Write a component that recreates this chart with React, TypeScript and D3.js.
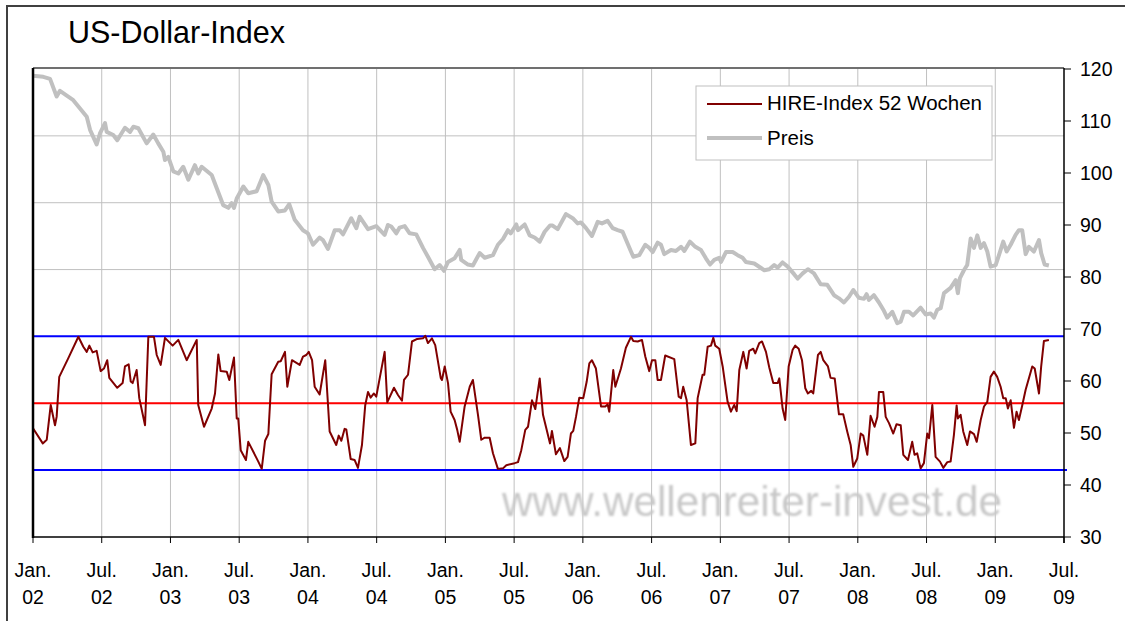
import React from "react";
import * as d3 from "d3";

// ---- data (time in decimal years) ----
const priceTime = [2002.000,2002.075,2002.124,2002.172,2002.196,2002.293,2002.342,2002.391,2002.415,2002.463,2002.487,2002.524,2002.536,2002.584,2002.613,2002.669,2002.706,2002.730,2002.766,2002.827,2002.875,2002.911,2002.948,2002.960,2002.984,2003.021,2003.057,2003.093,2003.130,2003.178,2003.202,2003.227,2003.300,2003.336,2003.384,2003.421,2003.445,2003.462,2003.482,2003.530,2003.566,2003.627,2003.675,2003.712,2003.736,2003.784,2003.833,2003.864,2003.904,2003.964,2004.000,2004.037,2004.085,2004.109,2004.146,2004.195,2004.231,2004.255,2004.315,2004.352,2004.376,2004.437,2004.497,2004.558,2004.582,2004.606,2004.643,2004.667,2004.704,2004.740,2004.788,2004.837,2004.873,2004.922,2004.958,2004.990,2005.019,2005.067,2005.104,2005.115,2005.164,2005.200,2005.249,2005.286,2005.346,2005.382,2005.419,2005.455,2005.475,2005.516,2005.528,2005.577,2005.613,2005.649,2005.686,2005.722,2005.761,2005.780,2005.817,2005.877,2005.926,2005.962,2005.986,2006.023,2006.066,2006.108,2006.139,2006.180,2006.217,2006.253,2006.289,2006.350,2006.367,2006.410,2006.454,2006.483,2006.508,2006.544,2006.568,2006.592,2006.641,2006.677,2006.714,2006.738,2006.779,2006.818,2006.859,2006.895,2006.925,2006.956,2006.992,2007.005,2007.041,2007.090,2007.126,2007.162,2007.186,2007.247,2007.320,2007.356,2007.392,2007.417,2007.453,2007.490,2007.538,2007.562,2007.599,2007.637,2007.681,2007.730,2007.778,2007.827,2007.863,2007.899,2007.936,2007.967,2008.008,2008.045,2008.064,2008.081,2008.117,2008.154,2008.190,2008.214,2008.251,2008.287,2008.312,2008.336,2008.372,2008.403,2008.457,2008.494,2008.530,2008.554,2008.578,2008.603,2008.627,2008.675,2008.712,2008.728,2008.743,2008.772,2008.796,2008.821,2008.845,2008.869,2008.894,2008.918,2008.942,2008.966,2009.003,2009.039,2009.058,2009.083,2009.112,2009.148,2009.172,2009.196,2009.221,2009.245,2009.281,2009.318,2009.334,2009.359,2009.390];
const priceValues = [118.7,118.5,118.1,114.7,115.8,114.0,112.4,110.8,108.3,105.5,107.6,109.6,107.9,107.3,106.3,108.7,107.9,108.9,108.6,105.7,107.4,105.7,104.1,102.5,103.1,100.3,99.9,101.2,98.7,101.5,99.9,101.2,99.6,97.1,93.8,93.3,94.2,93.3,95.1,97.4,96.1,96.5,99.6,97.7,94.5,92.6,92.8,94.0,91.0,89.0,88.4,86.2,87.6,87.1,85.4,89.0,89.0,88.2,91.3,89.4,91.6,89.2,89.8,88.1,90.0,89.7,88.4,89.5,89.8,88.4,88.2,85.6,83.9,81.5,82.3,81.2,82.9,83.6,85.2,83.3,82.4,82.2,84.6,83.7,84.2,86.2,87.3,89.0,88.4,90.1,89.0,90.1,88.0,87.6,86.8,88.7,89.9,89.9,89.2,92.1,91.3,90.3,90.5,89.4,87.9,90.6,90.3,90.8,89.4,89.0,88.7,84.9,83.9,84.2,86.2,85.6,84.8,86.6,86.2,84.4,85.2,85.0,85.8,85.0,86.8,85.8,85.2,83.6,82.4,83.3,83.7,82.9,84.8,84.8,84.2,83.7,82.9,82.6,81.3,81.5,82.3,81.8,82.8,82.0,80.5,79.7,80.7,81.5,80.7,78.6,78.5,76.5,75.9,75.1,76.2,77.5,76.0,75.8,76.7,75.6,76.5,75.1,73.5,72.2,73.3,71.1,71.4,73.3,73.3,72.6,74.1,72.8,73.0,72.2,73.7,74.0,76.9,77.9,79.4,76.9,79.8,81.3,82.3,87.4,85.6,88.0,85.6,86.5,84.9,82.0,82.3,85.2,86.8,84.9,86.2,88.1,89.0,89.0,84.4,85.8,84.9,87.1,84.6,82.4,82.2];

const hireTime = [2002.000,2002.071,2002.100,2002.129,2002.160,2002.172,2002.191,2002.257,2002.330,2002.366,2002.391,2002.410,2002.434,2002.463,2002.492,2002.516,2002.540,2002.555,2002.613,2002.652,2002.669,2002.696,2002.711,2002.725,2002.754,2002.773,2002.815,2002.839,2002.880,2002.900,2002.929,2002.960,2003.016,2003.057,2003.118,2003.191,2003.202,2003.244,2003.300,2003.324,2003.348,2003.365,2003.409,2003.428,2003.462,2003.482,2003.493,2003.511,2003.549,2003.566,2003.639,2003.664,2003.688,2003.712,2003.736,2003.784,2003.802,2003.833,2003.850,2003.884,2003.940,2003.964,2003.988,2004.006,2004.030,2004.049,2004.085,2004.126,2004.158,2004.206,2004.224,2004.243,2004.267,2004.279,2004.311,2004.340,2004.364,2004.393,2004.417,2004.437,2004.456,2004.480,2004.497,2004.558,2004.577,2004.626,2004.655,2004.684,2004.699,2004.728,2004.757,2004.795,2004.837,2004.854,2004.873,2004.902,2004.926,2004.966,2004.975,2004.995,2005.019,2005.038,2005.067,2005.086,2005.104,2005.140,2005.177,2005.200,2005.237,2005.261,2005.286,2005.322,2005.346,2005.382,2005.419,2005.443,2005.504,2005.528,2005.552,2005.581,2005.601,2005.630,2005.654,2005.686,2005.710,2005.734,2005.761,2005.775,2005.804,2005.833,2005.865,2005.889,2005.913,2005.930,2005.950,2005.974,2006.003,2006.028,2006.047,2006.066,2006.095,2006.132,2006.163,2006.180,2006.192,2006.221,2006.236,2006.277,2006.313,2006.350,2006.367,2006.399,2006.430,2006.454,2006.483,2006.503,2006.527,2006.544,2006.568,2006.599,2006.665,2006.697,2006.714,2006.730,2006.755,2006.786,2006.818,2006.835,2006.871,2006.883,2006.908,2006.932,2006.949,2006.963,2006.992,2007.017,2007.053,2007.077,2007.101,2007.119,2007.138,2007.167,2007.191,2007.210,2007.239,2007.254,2007.283,2007.303,2007.332,2007.356,2007.385,2007.417,2007.429,2007.453,2007.472,2007.497,2007.526,2007.545,2007.570,2007.594,2007.618,2007.637,2007.661,2007.676,2007.710,2007.730,2007.749,2007.783,2007.802,2007.832,2007.863,2007.894,2007.923,2007.948,2007.967,2007.996,2008.021,2008.040,2008.069,2008.093,2008.122,2008.142,2008.154,2008.185,2008.203,2008.227,2008.258,2008.282,2008.312,2008.331,2008.365,2008.396,2008.413,2008.432,2008.457,2008.481,2008.505,2008.518,2008.542,2008.566,2008.598,2008.622,2008.651,2008.675,2008.699,2008.719,2008.728,2008.748,2008.767,2008.796,2008.816,2008.845,2008.865,2008.894,2008.918,2008.942,2008.966,2008.990,2009.014,2009.039,2009.058,2009.076,2009.092,2009.112,2009.136,2009.155,2009.172,2009.196,2009.221,2009.269,2009.287,2009.318,2009.334,2009.354,2009.390];
const hireValues = [50.9,48.0,48.7,55.4,51.5,53.1,60.8,64.4,68.5,66.6,65.6,66.8,65.5,65.8,61.9,62.4,64.0,60.6,58.7,59.6,62.8,63.2,59.9,59.6,62.1,56.7,51.5,68.5,68.5,65.0,63.1,68.3,66.8,67.9,64.0,67.9,55.4,51.2,54.7,57.6,65.1,61.9,61.8,60.2,64.5,52.8,52.8,46.7,44.8,48.3,44.5,43.1,48.5,49.8,61.3,63.7,63.8,65.6,58.9,64.0,63.1,64.7,65.0,65.6,64.0,58.9,57.4,64.0,50.3,47.7,49.5,48.5,50.8,50.7,45.0,44.8,43.3,47.7,55.4,57.9,56.8,57.6,57.0,65.6,55.9,58.7,57.3,56.2,60.2,61.2,67.6,68.1,68.2,68.7,67.3,68.2,66.9,60.6,60.2,62.8,59.6,54.1,52.5,50.6,48.3,55.1,58.9,60.2,53.5,48.7,49.1,49.1,46.1,43.1,43.2,43.8,44.2,44.4,46.7,50.6,51.2,56.3,54.6,60.5,53.5,50.9,48.0,50.4,45.9,47.1,44.6,45.4,49.9,50.4,53.1,56.8,56.7,59.9,63.4,64.0,62.4,55.1,55.1,55.5,54.1,62.1,58.9,62.4,66.4,68.5,67.7,67.6,67.9,64.7,61.9,64.0,64.0,60.2,60.2,64.9,64.2,57.0,56.7,58.9,56.3,47.7,48.0,56.7,61.2,61.2,66.6,66.8,68.3,66.8,66.2,62.8,56.0,54.1,55.4,54.2,62.1,65.6,62.4,65.8,66.2,65.3,67.3,67.6,65.6,62.6,59.6,59.6,60.5,54.7,52.5,62.8,66.0,66.8,66.2,64.0,58.6,57.6,58.1,57.6,65.0,65.6,64.0,62.8,60.6,60.5,53.6,53.6,50.3,47.7,43.5,45.1,49.9,49.5,45.8,53.3,51.2,53.1,57.9,57.9,53.1,51.9,49.9,51.7,51.5,45.8,44.8,48.3,45.8,46.1,43.2,44.2,49.9,49.0,55.4,45.4,44.5,43.3,44.4,44.5,49.6,55.3,52.8,53.5,50.3,47.7,50.3,49.8,48.3,52.5,55.1,56.0,60.8,61.8,60.8,58.9,56.7,56.7,54.7,56.3,51.0,54.1,52.5,55.3,58.3,62.8,62.4,57.6,62.8,67.7,67.9];

const upperBand = 68.6;
const middleBand = 55.7;
const lowerBand = 42.9;

const yTicks = [30, 40, 50, 60, 70, 80, 90, 100, 110, 120];
const xTickYears = [2002, 2002.5, 2003, 2003.5, 2004, 2004.5, 2005, 2005.5, 2006, 2006.5, 2007, 2007.5, 2008, 2008.5, 2009, 2009.5];
const xTickMonth = ["Jan.", "Jul."];
const xTickYearLabels = ["02", "02", "03", "03", "04", "04", "05", "05", "06", "06", "07", "07", "08", "08", "09", "09"];

const title = "US-Dollar-Index";
const legendHire = "HIRE-Index 52 Wochen";
const legendPrice = "Preis";
const watermark = "www.wellenreiter-invest.de";

export default function App() {
  const W = 1125, H = 621;
  const left = 33, right = 1064, top = 69, bottom = 537;
  const x = d3.scaleLinear().domain([2002, 2009.5]).range([left, right]);
  const y = d3.scaleLinear().domain([30, 120]).range([bottom, top]);
  const gridVals = d3.range(1, 7).map((i) => 30 + (i * 90) / 7);

  const priceLine = d3.line<number>().x((_, i) => x(priceTime[i])).y((d) => y(d));
  const hireLine = d3.line<number>().x((_, i) => x(hireTime[i])).y((d) => y(d));
  const font = "Arial, 'Liberation Sans', Helvetica, sans-serif";

  return (
    <svg width={W} height={H} style={{ position: "absolute", left: 0, top: 0, background: "#fff" }} fontFamily={font}>
      <defs>
        <filter id="blur" x="-5%" y="-20%" width="110%" height="140%">
          <feGaussianBlur stdDeviation="0.8" />
        </filter>
      </defs>
      <rect x={0} y={0} width={W} height={H} fill="#fff" />
      <rect x={7} y={6} width={W + 20} height={H + 20} fill="none" stroke="#404040" strokeWidth={2} />
      <text x={68} y={43} fontSize={30.5} fill="#000">{title}</text>

      {/* gridlines */}
      {xTickYears.slice(1, -1).map((t) => (
        <line key={"vg" + t} x1={x(t)} x2={x(t)} y1={top} y2={bottom} stroke="#c0c0c0" strokeWidth={1} />
      ))}
      {gridVals.map((v) => (
        <line key={"hg" + v} x1={left} x2={right} y1={y(v)} y2={y(v)} stroke="#c0c0c0" strokeWidth={1} />
      ))}

      {/* watermark */}
      <text x={502} y={516} fontSize={42} fill="#c8c8c8" textLength={500} lengthAdjust="spacingAndGlyphs" filter="url(#blur)">{watermark}</text>

      {/* bands */}
      <line x1={left} x2={right} y1={y(upperBand)} y2={y(upperBand)} stroke="#0000ff" strokeWidth={2} />
      <line x1={left} x2={right} y1={y(middleBand)} y2={y(middleBand)} stroke="#ff0000" strokeWidth={2} />
      <line x1={left} x2={right + 3} y1={y(lowerBand)} y2={y(lowerBand)} stroke="#0000ff" strokeWidth={2} />

      {/* series */}
      <path d={priceLine(priceValues) || ""} fill="none" stroke="#c0c0c0" strokeWidth={4} strokeLinejoin="round" />
      <path d={hireLine(hireValues) || ""} fill="none" stroke="#800000" strokeWidth={2} strokeLinejoin="round" />

      {/* plot frame */}
      <line x1={left} x2={right} y1={top - 1} y2={top - 1} stroke="#404040" strokeWidth={1.5} />
      <line x1={left} x2={left} y1={top - 1} y2={bottom + 1} stroke="#000" strokeWidth={2.5} />
      <line x1={left} x2={right} y1={bottom} y2={bottom} stroke="#000" strokeWidth={1.5} />
      <line x1={right} x2={right} y1={top - 1} y2={bottom + 6} stroke="#000" strokeWidth={1.5} />

      {/* right axis */}
      {yTicks.map((v) => (
        <g key={"yt" + v}>
          <line x1={right} x2={right + 7} y1={y(v)} y2={y(v)} stroke="#000" strokeWidth={1} />
          <text x={1080} y={y(v)} dy="0.36em" fontSize={19.5} fill="#000">{v}</text>
        </g>
      ))}

      {/* bottom axis */}
      {xTickYears.map((t, i) => (
        <g key={"xt" + t}>
          <line x1={x(t)} x2={x(t)} y1={bottom} y2={bottom + 6} stroke="#000" strokeWidth={1} />
          <text x={x(t)} y={577} fontSize={19.5} textAnchor="middle" fill="#000">{xTickMonth[i % 2]}</text>
          <text x={x(t)} y={604} fontSize={19.5} textAnchor="middle" fill="#000">{xTickYearLabels[i]}</text>
        </g>
      ))}

      {/* legend */}
      <rect x={696} y={86} width={296} height={74} fill="#fff" stroke="#c0c0c0" strokeWidth={1} />
      <line x1={707} x2={762} y1={104} y2={104} stroke="#800000" strokeWidth={2} />
      <text x={767} y={110} fontSize={20.5} fill="#000">{legendHire}</text>
      <line x1={707} x2={762} y1={138} y2={138} stroke="#c0c0c0" strokeWidth={4} />
      <text x={767} y={144.5} fontSize={20.5} fill="#000">{legendPrice}</text>
    </svg>
  );
}
